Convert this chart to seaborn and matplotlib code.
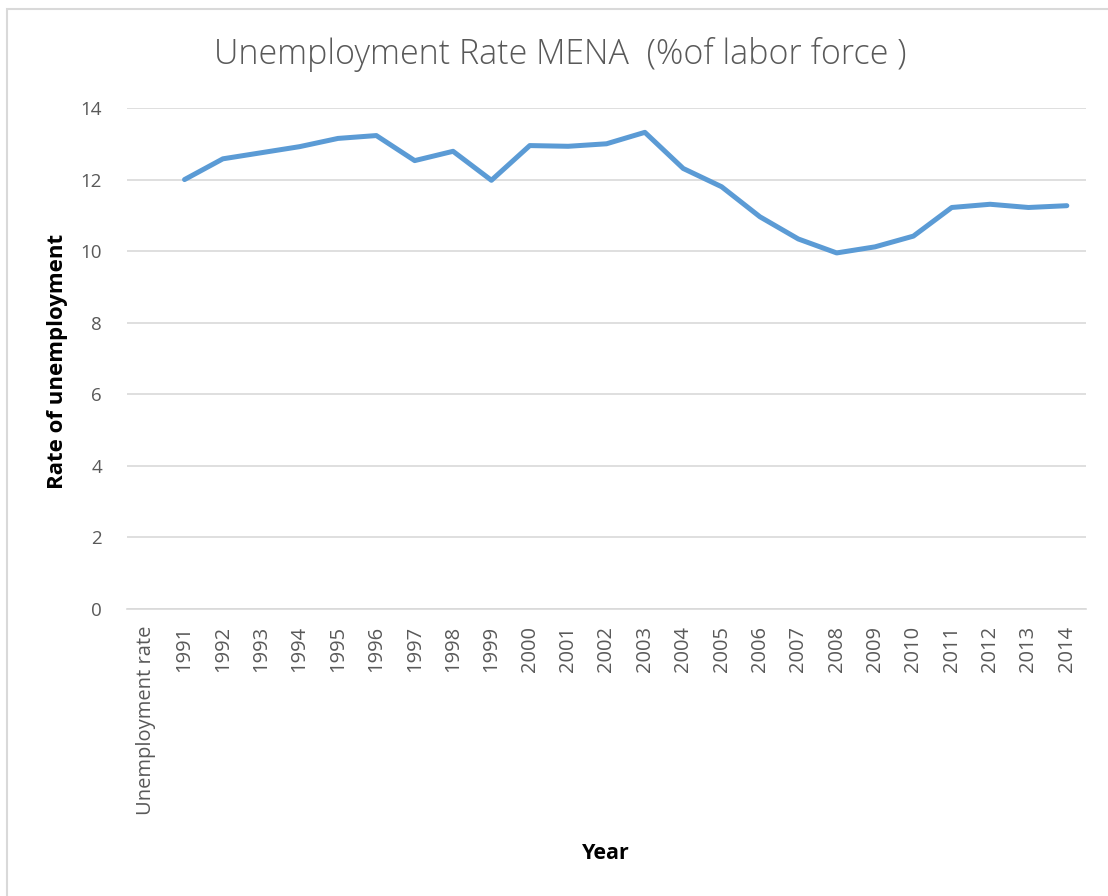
import numpy as np
import pandas as pd
import matplotlib
matplotlib.use("Agg")
import matplotlib.pyplot as plt
from matplotlib.patches import Rectangle
import seaborn as sns

# Category labels along the x axis (first slot is the series name, no value)
categories = ["Unemployment rate"] + [str(y) for y in range(1991, 2015)]
years = [str(y) for y in range(1991, 2015)]
rates = [12.00, 12.58, 12.75, 12.92, 13.15, 13.23, 12.53, 12.79, 11.98, 12.95,
         12.93, 13.00, 13.32, 12.31, 11.80, 10.96, 10.34, 9.95, 10.12, 10.42,
         11.22, 11.31, 11.22, 11.27]
y_ticks = [0, 2, 4, 6, 8, 10, 12, 14]

title = "Unemployment Rate MENA  (%of labor force )"
x_label = "Year"
y_label = "Rate of unemployment"

sns.set_theme(style="white")
plt.rcParams["font.family"] = ["Open Sans", "DejaVu Sans"]

df = pd.DataFrame({"year": years, "rate": rates})
df["pos"] = [categories.index(y) for y in df["year"]]

fig = plt.figure(figsize=(11.08, 8.96), dpi=100)
ax = fig.add_axes([127 / 1108, 1 - 609 / 896, (1086 - 127) / 1108, (609 - 108) / 896])

sns.lineplot(data=df, x="pos", y="rate", ax=ax, color="#5B9BD5", linewidth=3.6,
             solid_capstyle="round", solid_joinstyle="round")

ax.set_xlim(-0.5, len(categories) - 0.5)
ax.set_ylim(0, 14)
ax.set_xticks(range(len(categories)))
ax.set_xticklabels(categories, rotation=90)
ax.set_yticks(y_ticks)
ax.set_yticklabels([str(v) for v in y_ticks], fontsize=13.5, color="#595959")
ax.tick_params(axis="x", labelsize=14.5, labelcolor="#595959", pad=12, length=0)
ax.tick_params(axis="y", pad=18, length=0)

ax.grid(axis="y", color="#D9D9D9", linewidth=1.2)
ax.grid(axis="x", visible=False)
ax.set_axisbelow(True)
for side in ["top", "right", "left"]:
    ax.spines[side].set_visible(False)
ax.spines["bottom"].set_color("#D9D9D9")
ax.spines["bottom"].set_linewidth(1.2)

ax.set_xlabel("")
ax.set_ylabel("")
fig.text(606 / 1108, 1 - 853 / 896, x_label, ha="center", va="center",
         fontsize=15.5, fontweight="bold", color="black")
fig.text(58 / 1108, 1 - 361 / 896, y_label, ha="center", va="center", rotation=90,
         fontsize=16, fontweight="bold", color="black")
fig.text(560 / 1108, 1 - 55 / 896, title, ha="center", va="center",
         fontsize=24.5, color="#595959", fontweight="light")

# chart area border
fig.patches.append(Rectangle((7 / 1108, -0.1), 1.2, 1 - 9 / 896 + 0.1,
                             transform=fig.transFigure, fill=False,
                             edgecolor="#D9D9D9", linewidth=1.5))

fig.savefig("out.png", dpi=100)
